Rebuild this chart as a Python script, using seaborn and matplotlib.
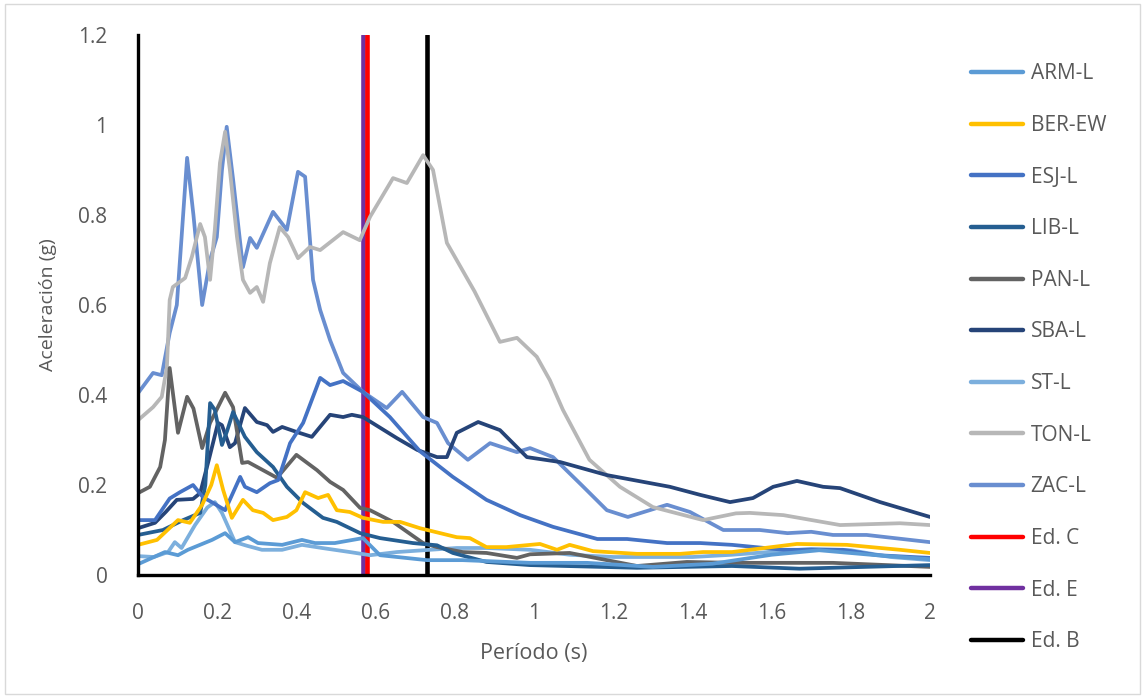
import numpy as np
import pandas as pd
import matplotlib
matplotlib.use("Agg")
import matplotlib.pyplot as plt
import seaborn as sns
from matplotlib.patches import Rectangle
from matplotlib.lines import Line2D

# ---------------- data ----------------
series_names = ["ARM-L", "BER-EW", "ESJ-L", "LIB-L", "PAN-L", "SBA-L", "ST-L", "TON-L", "ZAC-L"]

arm_t = [0, 0.068, 0.101, 0.126, 0.187, 0.22, 0.245, 0.278, 0.303, 0.364, 0.414, 0.447, 0.497, 0.568,
         0.611, 0.73, 0.82, 0.99, 1.134, 1.30, 1.45, 1.6, 1.72, 1.85, 2.0]
arm_a = [0.024, 0.051, 0.044, 0.056, 0.078, 0.093, 0.073, 0.084, 0.071, 0.067, 0.078, 0.071, 0.071, 0.082,
         0.044, 0.033, 0.033, 0.027, 0.027, 0.018, 0.025, 0.045, 0.055, 0.045, 0.035]

ber_t = [0, 0.048, 0.101, 0.131, 0.162, 0.185, 0.199, 0.215, 0.237, 0.265, 0.29, 0.316, 0.341, 0.376, 0.40,
         0.422, 0.455, 0.48, 0.502, 0.535, 0.568, 0.619, 0.662, 0.712, 0.805, 0.838, 0.88, 0.93, 1.015,
         1.058, 1.09, 1.149, 1.26, 1.369, 1.427, 1.50, 1.664, 1.79, 1.924, 2.0]
ber_a = [0.067, 0.078, 0.122, 0.116, 0.156, 0.2, 0.244, 0.189, 0.127, 0.167, 0.144, 0.138, 0.122, 0.129, 0.144,
         0.184, 0.171, 0.178, 0.144, 0.14, 0.127, 0.118, 0.118, 0.104, 0.084, 0.082, 0.062, 0.062, 0.069,
         0.056, 0.067, 0.053, 0.047, 0.047, 0.051, 0.051, 0.069, 0.067, 0.056, 0.049]

esj_t = [0, 0.043, 0.08, 0.106, 0.139, 0.164, 0.19, 0.22, 0.258, 0.27, 0.30, 0.333, 0.354, 0.384, 0.417,
         0.46, 0.485, 0.518, 0.568, 0.636, 0.712, 0.795, 0.88, 0.965, 1.048, 1.16, 1.235, 1.336, 1.42,
         1.50, 1.63, 1.78, 1.866, 2.0]
esj_a = [0.122, 0.122, 0.17, 0.184, 0.2, 0.173, 0.16, 0.144, 0.218, 0.196, 0.184, 0.204, 0.211, 0.293, 0.338,
         0.438, 0.422, 0.431, 0.407, 0.351, 0.275, 0.218, 0.167, 0.133, 0.107, 0.08, 0.08, 0.071, 0.071,
         0.067, 0.056, 0.056, 0.044, 0.038]

lib_t = [0, 0.063, 0.114, 0.157, 0.17, 0.182, 0.194, 0.212, 0.225, 0.24, 0.27, 0.30, 0.341, 0.376, 0.417,
         0.467, 0.502, 0.561, 0.611, 0.694, 0.755, 0.795, 0.88, 0.99, 1.26, 1.5, 1.67, 2.0]
lib_a = [0.089, 0.10, 0.122, 0.138, 0.2, 0.382, 0.367, 0.289, 0.32, 0.362, 0.307, 0.273, 0.24, 0.196, 0.16,
         0.127, 0.118, 0.093, 0.082, 0.071, 0.066, 0.049, 0.029, 0.022, 0.016, 0.02, 0.014, 0.022]

pan_t = [0, 0.03, 0.056, 0.068, 0.08, 0.101, 0.124, 0.14, 0.162, 0.182, 0.22, 0.24, 0.263, 0.278, 0.351,
         0.40, 0.452, 0.485, 0.518, 0.561, 0.586, 0.644, 0.72, 0.755, 0.82, 0.88, 0.957, 0.99, 1.09,
         1.184, 1.26, 1.386, 1.51, 1.59, 1.755, 2.0]
pan_a = [0.182, 0.196, 0.24, 0.30, 0.46, 0.316, 0.396, 0.37, 0.282, 0.338, 0.405, 0.373, 0.249, 0.251, 0.216,
         0.267, 0.233, 0.207, 0.189, 0.149, 0.144, 0.118, 0.071, 0.062, 0.051, 0.049, 0.038, 0.046, 0.049,
         0.033, 0.02, 0.029, 0.027, 0.027, 0.027, 0.018]

sba_t = [0, 0.043, 0.07, 0.098, 0.139, 0.157, 0.18, 0.202, 0.212, 0.232, 0.245, 0.27, 0.30, 0.326, 0.341,
         0.364, 0.40, 0.439, 0.485, 0.518, 0.54, 0.568, 0.654, 0.705, 0.755, 0.78, 0.805, 0.859, 0.914,
         0.957, 0.982, 1.066, 1.184, 1.343, 1.42, 1.495, 1.553, 1.604, 1.664, 1.73, 1.773, 1.874, 2.0]
sba_a = [0.104, 0.116, 0.14, 0.167, 0.169, 0.182, 0.26, 0.338, 0.333, 0.284, 0.293, 0.371, 0.34, 0.333, 0.318,
         0.329, 0.318, 0.307, 0.356, 0.351, 0.356, 0.351, 0.304, 0.278, 0.262, 0.262, 0.316, 0.34, 0.322,
         0.284, 0.262, 0.251, 0.222, 0.196, 0.178, 0.162, 0.171, 0.196, 0.209, 0.196, 0.193, 0.162, 0.129]

st_t = [0, 0.04, 0.076, 0.093, 0.11, 0.144, 0.175, 0.194, 0.212, 0.245, 0.275, 0.313, 0.364, 0.414, 0.465,
        0.535, 0.586, 0.654, 0.737, 0.805, 0.88, 0.99, 1.09, 1.2, 1.4, 1.5, 1.7, 1.8, 1.9, 2.0]
st_a = [0.042, 0.04, 0.051, 0.073, 0.06, 0.111, 0.15, 0.162, 0.138, 0.073, 0.065, 0.056, 0.056, 0.067, 0.06,
        0.051, 0.044, 0.051, 0.056, 0.06, 0.06, 0.056, 0.045, 0.04, 0.04, 0.045, 0.058, 0.055, 0.04, 0.033]

ton_t = [0, 0.038, 0.06, 0.073, 0.08, 0.088, 0.119, 0.136, 0.157, 0.169, 0.182, 0.194, 0.207, 0.22, 0.232,
         0.25, 0.265, 0.283, 0.30, 0.316, 0.333, 0.358, 0.379, 0.404, 0.434, 0.46, 0.518, 0.56, 0.586,
         0.644, 0.679, 0.72, 0.745, 0.78, 0.85, 0.914, 0.957, 1.007, 1.04, 1.073, 1.14, 1.217, 1.30,
         1.427, 1.51, 1.545, 1.63, 1.773, 1.924, 2.0]
ton_a = [0.344, 0.373, 0.396, 0.462, 0.611, 0.64, 0.66, 0.707, 0.78, 0.751, 0.656, 0.767, 0.916, 0.985, 0.9,
         0.751, 0.656, 0.627, 0.64, 0.607, 0.693, 0.773, 0.751, 0.704, 0.729, 0.722, 0.762, 0.744, 0.796,
         0.882, 0.871, 0.933, 0.9, 0.738, 0.63, 0.518, 0.527, 0.485, 0.433, 0.367, 0.256, 0.196, 0.151,
         0.122, 0.137, 0.138, 0.133, 0.111, 0.115, 0.111]

zac_t = [0, 0.038, 0.06, 0.08, 0.098, 0.11, 0.124, 0.14, 0.162, 0.182, 0.199, 0.212, 0.224, 0.24, 0.265,
         0.283, 0.30, 0.341, 0.376, 0.404, 0.422, 0.442, 0.46, 0.485, 0.518, 0.568, 0.628, 0.667, 0.72,
         0.755, 0.783, 0.833, 0.889, 0.957, 0.99, 1.048, 1.12, 1.184, 1.237, 1.336, 1.394, 1.478, 1.57,
         1.64, 1.70, 1.755, 1.84, 2.0]
zac_a = [0.404, 0.449, 0.444, 0.538, 0.60, 0.75, 0.927, 0.8, 0.60, 0.70, 0.751, 0.9, 0.996, 0.88, 0.684,
         0.749, 0.727, 0.807, 0.767, 0.896, 0.885, 0.656, 0.589, 0.522, 0.449, 0.407, 0.371, 0.407, 0.351,
         0.338, 0.293, 0.256, 0.293, 0.273, 0.282, 0.262, 0.2, 0.144, 0.129, 0.156, 0.14, 0.10, 0.10,
         0.093, 0.096, 0.089, 0.089, 0.073]

edif_names = ["Ed. C", "Ed. E", "Ed. B"]
edif_periods = [0.578, 0.568, 0.73]
edif_range = [0.0, 1.2]

x_ticks = [0, 0.2, 0.4, 0.6, 0.8, 1, 1.2, 1.4, 1.6, 1.8, 2]
x_tick_labels = ["0", "0.2", "0.4", "0.6", "0.8", "1", "1.2", "1.4", "1.6", "1.8", "2"]
y_ticks = [0, 0.2, 0.4, 0.6, 0.8, 1, 1.2]
y_tick_labels = ["0", "0.2", "0.4", "0.6", "0.8", "1", "1.2"]

# ---------------- styling ----------------
colors = {
    "ARM-L": "#5B9BD5", "BER-EW": "#FFC000", "ESJ-L": "#4472C4", "LIB-L": "#255E91",
    "PAN-L": "#636363", "SBA-L": "#264478", "ST-L": "#7CAFDD", "TON-L": "#B7B7B7",
    "ZAC-L": "#698ED0", "Ed. C": "#FF0000", "Ed. E": "#7030A0", "Ed. B": "#000000",
}
txt = "#595959"
narrow = ["Liberation Sans Narrow", "Open Sans", "DejaVu Sans"]

all_t = [arm_t, ber_t, esj_t, lib_t, pan_t, sba_t, st_t, ton_t, zac_t]
all_a = [arm_a, ber_a, esj_a, lib_a, pan_a, sba_a, st_a, ton_a, zac_a]
frames = [pd.DataFrame({"T": t, "A": a, "serie": n}) for n, t, a in zip(series_names, all_t, all_a)]
df = pd.concat(frames, ignore_index=True)

ed_df = pd.concat([pd.DataFrame({"T": [p, p], "A": edif_range, "serie": n})
                   for n, p in zip(edif_names, edif_periods)], ignore_index=True)

sns.set_theme(style="white")
plt.rcParams["font.family"] = ["Open Sans", "DejaVu Sans"]

fig = plt.figure(figsize=(11.45, 6.98), dpi=100)
ax = fig.add_axes([138 / 1145, 1 - 575 / 698, (930 - 138) / 1145, (575 - 35) / 698])

for n in ["Ed. B", "Ed. E", "Ed. C"]:
    sub = ed_df[ed_df.serie == n]
    sns.lineplot(data=sub, x="T", y="A", color=colors[n], linewidth=3.3,
                 estimator=None, sort=False, ax=ax, legend=False)

for n in series_names[::-1]:
    sub = df[df.serie == n]
    sns.lineplot(data=sub, x="T", y="A", color=colors[n], linewidth=2.7,
                 estimator=None, sort=False, ax=ax, legend=False,
                 solid_joinstyle="round", solid_capstyle="round")

ax.set_xlim(0, 2)
ax.set_ylim(0, 1.2)
ax.set_xticks(x_ticks)
ax.set_xticklabels(x_tick_labels, family=narrow, fontsize=15, color=txt)
ax.set_yticks(y_ticks)
ax.set_yticklabels(y_tick_labels, fontsize=15, color=txt)
ax.tick_params(axis="both", length=0)
ax.tick_params(axis="x", pad=20)
ax.tick_params(axis="y", pad=22)
ax.set_xlabel("Período (s)", family=narrow, fontsize=15.5, color=txt, labelpad=14)
ax.set_ylabel("Aceleración (g)", fontsize=14, color=txt, labelpad=15)
for s in ["top", "right"]:
    ax.spines[s].set_visible(False)
for s in ["left", "bottom"]:
    ax.spines[s].set_color("black")
    ax.spines[s].set_linewidth(2.4)
ax.grid(False)

handles = [Line2D([0], [0], color=colors[n], linewidth=3.2) for n in series_names + edif_names]
labels = series_names + edif_names
leg = fig.legend(handles, labels, loc="upper left", bbox_to_anchor=(963 / 1145, 1 - 55 / 698),
                 frameon=False, fontsize=15, handlelength=2.5, handletextpad=0.35,
                 labelspacing=1.47, borderaxespad=0)
for t in leg.get_texts():
    t.set_color(txt)

fig.patches.append(Rectangle((0.004, 0.006), 0.992, 0.988, transform=fig.transFigure,
                             fill=False, edgecolor="#D9D9D9", linewidth=1))

fig.savefig("out.png", dpi=100, facecolor="white")
